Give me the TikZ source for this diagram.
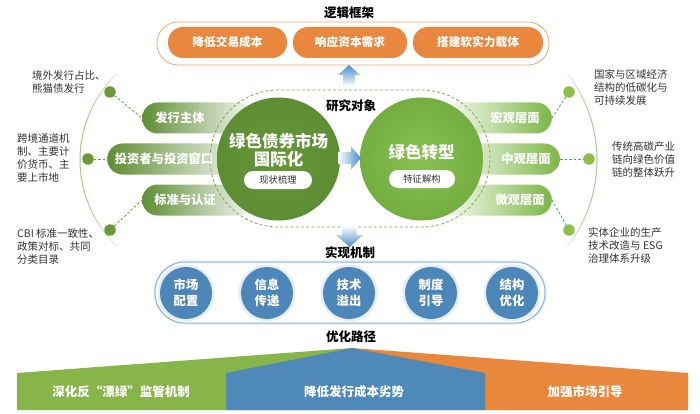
\documentclass[tikz,border=0pt]{standalone}
\usepackage{fontspec}
\setmainfont{Noto Sans CJK SC}
\definecolor{orng}{HTML}{E8873D}
\definecolor{oframe}{HTML}{F0A774}
\definecolor{gdark}{HTML}{5E8E34}
\definecolor{glight}{HTML}{7CB646}
\definecolor{crin}{HTML}{88C053}
\definecolor{crout}{HTML}{74AE40}
\definecolor{bblue}{HTML}{4D86B8}
\definecolor{ablue}{HTML}{4A8CC8}
\definecolor{bframe}{HTML}{86B0D8}
\definecolor{txtg}{HTML}{333333}
\definecolor{gbar}{HTML}{87B54A}
\definecolor{bbar}{HTML}{4F89BA}
\definecolor{obar}{HTML}{E9873C}
\definecolor{arcg}{HTML}{A6C985}
\definecolor{ldot}{HTML}{6A9A35}
\definecolor{rdot}{HTML}{8DC04A}
\definecolor{rdsh}{HTML}{4F9A7E}
\begin{document}
\begin{tikzpicture}[x=1pt,y=-1pt,
  ttl/.style={font=\fontsize{12.5}{15}\selectfont\bfseries, inner sep=0, text=black},
  opill/.style={fill=orng, rounded corners=15, minimum height=31, text=white, font=\fontsize{11.7}{14}\selectfont\bfseries, inner sep=0},
  lpill/.style={rounded corners=15.5, minimum height=31, inner sep=0, left color=gdark, right color=gdark!4},
  rpill/.style={rounded corners=15.5, minimum height=31, inner sep=0, right color=glight, left color=glight!4},
  ptxt/.style={text=white, font=\fontsize{12.3}{14}\selectfont\bfseries, inner sep=0},
  sdot/.style={circle, fill=#1, minimum size=11.5, inner sep=0},
  sidetxt/.style={text=txtg, font=\fontsize{10.5}{13}\selectfont, align=left, inner sep=0, anchor=west},
  ldash/.style={draw=ldot, line width=0.8, dash pattern=on 2.5pt off 2pt},
  rdash/.style={draw=rdsh, line width=0.8, dash pattern=on 2.5pt off 2pt},
  wpill/.style={fill=white, rounded corners=9, minimum height=18, text=txtg, font=\fontsize{9.3}{11}\selectfont, inner sep=0},
  ctxt/.style={text=white, font=\fontsize{16.5}{18}\selectfont\bfseries, align=center, inner sep=0},
  bcirc/.style={circle, fill=bblue, minimum size=52, inner sep=0, text=white, font=\fontsize{12.3}{16}\selectfont\bfseries, align=center, preaction={draw=bblue!15, line width=5}},
  bartxt/.style={text=white, font=\fontsize{12.5}{15}\selectfont\bfseries, inner sep=0},
  arcline/.style={draw=arcg, line width=1}
]
\useasboundingbox (0,0) rectangle (700,414);
\fill[white] (0,0) rectangle (700,414);

% ---------- top: logic framework ----------
\node[ttl] (tlogic) at (349,13) {逻辑框架};
\draw[draw=oframe, line width=0.8, fill=white, rounded corners=21] (157,22) rectangle (549,65);
\node[opill, minimum width=119] (o1) at (227.5,42.5) {降低交易成本};
\node[opill, minimum width=114] (o2) at (350,42.5) {响应资本需求};
\node[opill, minimum width=130] (o3) at (478,42.5) {搭建软实力载体};

% up arrow
\shade[top color=ablue, bottom color=white] (349,65) -- (360,75) -- (355,75) -- (355,86) -- (343,86) -- (343,75) -- (338,75) -- cycle;

% ---------- big arcs ----------
\foreach \i in {0,...,29}{
  \pgfmathsetmacro\aa{133+\i*94/30}
  \pgfmathsetmacro\ab{133+(\i+1)*94/30}
  \pgfmathsetmacro\op{sqrt(sin(180*(\i+0.5)/30))}
  \draw[arcline, draw opacity=\op] plot[domain=\aa:\ab, samples=4] ({198.6+118.6*cos(\x)},{160-118.6*sin(\x)});
  \pgfmathsetmacro\ba{-38+\i*76/30}
  \pgfmathsetmacro\bb{-38+(\i+1)*76/30}
  \draw[arcline, draw opacity=\op] plot[domain=\ba:\bb, samples=4] ({456+141*cos(\x)},{160-141*sin(\x)});
}

% ---------- side pills ----------
\node[lpill, minimum width=112, anchor=west] (p1) at (142,118) {};
\node[lpill, minimum width=142, anchor=west] (p2) at (107,159) {};
\node[lpill, minimum width=112, anchor=west] (p3) at (142,200) {};
\node[ptxt] (p1t) at (180,118) {发行主体};
\node[ptxt] (p2t) at (164,159) {投资者与投资窗口};
\node[ptxt] (p3t) at (185,200) {标准与认证};

\node[rpill, minimum width=108, anchor=east] (r1) at (552,118) {};
\node[rpill, minimum width=112, anchor=east] (r2) at (560,159) {};
\node[rpill, minimum width=108, anchor=east] (r3) at (552,200) {};
\node[ptxt] (r1t) at (515,118) {宏观层面};
\node[ptxt] (r2t) at (526,159) {中观层面};
\node[ptxt] (r3t) at (520,200) {微观层面};

% dashed stadium
\draw[draw=gdark!80, line width=0.8, dash pattern=on 3pt off 2.2pt, rounded corners=68.5] (210,90) rectangle (490,227);

% ---------- dots and side texts ----------
\node[sdot=ldot] (d1) at (110,92) {};
\node[sdot=ldot] (d2) at (88,159) {};
\node[sdot=ldot] (d3) at (110,230) {};
\node[sdot=rdot] (e1) at (569,92) {};
\node[sdot=rdot] (e2) at (589,159) {};
\node[sdot=rdot] (e3) at (569,230) {};
\draw[ldash] (d1) -- (p1.west);
\draw[ldash] (d2) -- (p2.west);
\draw[ldash] (d3) -- (p3.west);
\draw[rdash] (r1.east) -- (e1);
\draw[rdash] (r2.east) -- (e2);
\draw[rdash] (r3.east) -- (e3);

\node[sidetxt] (l1) at (32,81.5) {境外发行占比、\\熊猫债发行};
\node[sidetxt] (l2) at (17,157.5) {跨境通道机\\制、主要计\\价货币、主\\要上市地};
\node[sidetxt] (l3) at (17,247) {CBI 标准一致性、\\政策对标、共同\\分类目录};
\node[sidetxt] (s1) at (594,87) {国家与区域经济\\结构的低碳化与\\可持续发展};
\node[sidetxt] (s2) at (612,160) {传统高碳产业\\链向绿色价值\\链的整体跃升};
\node[sidetxt] (s3) at (588,245) {实体企业的生产\\技术改造与 ESG\\治理体系升级};

% ---------- main circles ----------
\node[ttl] (tobj) at (351,106) {研究对象};
\node[circle, minimum size=123, inner sep=0, inner color=gdark!80!glight, outer color=gdark] (cl) at (278.5,159) {};
\node[circle, minimum size=123, inner sep=0, inner color=crin, outer color=crout] (cr) at (421.5,159) {};
\node[ctxt] (clt) at (278.5,150) {绿色债券市场\\国际化};
\node[wpill, minimum width=68] (clp) at (278,180) {现状梳理};
\node[ctxt] (crt) at (421.5,152) {绿色转型};
\node[wpill, minimum width=66] (crp) at (422,179) {特征解构};
% right arrow
\shade[left color=white, right color=ablue] (338,152) -- (351,152) -- (351,146.5) -- (361,158) -- (351,169.5) -- (351,164) -- (338,164) -- cycle;

% down arrow
\shade[top color=white, bottom color=ablue] (342,226) -- (357,226) -- (357,235) -- (363,235) -- (349.5,247) -- (336,235) -- (342,235) -- cycle;

% ---------- mechanism ----------
\node[ttl] (tmech) at (350,253) {实现机制};
\draw[draw=bframe, line width=1, fill=white, rounded corners=30, preaction={draw=bblue!10, line width=4}] (155,262) rectangle (545,323);
\node[bcirc] (m1) at (186,293) {市场\\配置};
\node[bcirc] (m2) at (267,293) {信息\\传递};
\node[bcirc] (m3) at (349,293) {技术\\溢出};
\node[bcirc] (m4) at (431,293) {制度\\引导};
\node[bcirc] (m5) at (512,293) {结构\\优化};

% ---------- paths ----------
\node[ttl] (tpath) at (351,337) {优化路径};
\fill[gbar] (17,373) -- (352,348) -- (352,410) -- (17,410) -- cycle;
\fill[obar] (352,348) -- (688,373) -- (688,410) -- (352,410) -- cycle;
\fill[bbar] (226,373) -- (352,348) -- (485,373) -- (485,410) -- (226,410) -- cycle;
\node[bartxt] (b1) at (121,392) {深化反“漂绿”监管机制};
\node[bartxt] (b2) at (354,392) {降低发行成本劣势};
\node[bartxt] (b3) at (585,392) {加强市场引导};
\end{tikzpicture}
\end{document}
